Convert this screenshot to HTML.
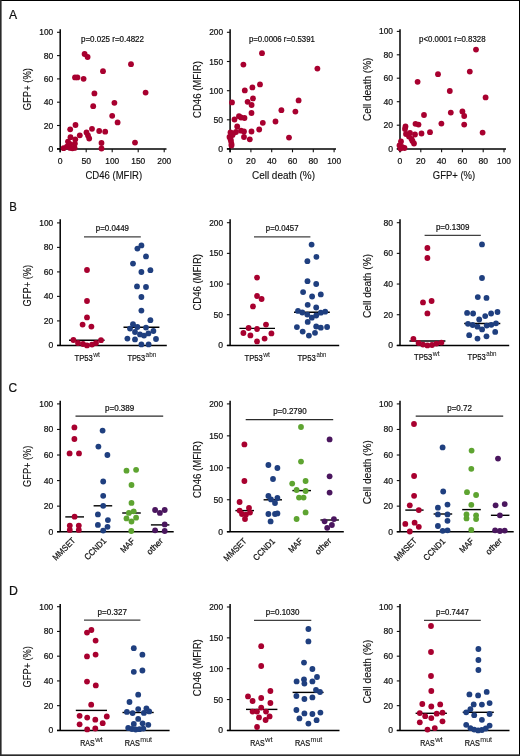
<!DOCTYPE html>
<html><head><meta charset="utf-8"><style>
html,body{margin:0;padding:0;background:#fff;}
svg{display:block;will-change:transform;}
text{font-family:"Liberation Sans", sans-serif;}
</style></head><body>
<svg width="520" height="756" viewBox="0 0 520 756">
<rect x="0" y="0" width="520" height="756" fill="#fff"/>
<text x="8.9" y="19.2" font-size="12.6" text-anchor="start" fill="#111" stroke="#111" stroke-width="0.22" textLength="8.1" lengthAdjust="spacingAndGlyphs">A</text>
<text x="9.3" y="211.0" font-size="12.6" text-anchor="start" fill="#111" stroke="#111" stroke-width="0.22" textLength="7.6" lengthAdjust="spacingAndGlyphs">B</text>
<text x="8.5" y="391.8" font-size="12.6" text-anchor="start" fill="#111" stroke="#111" stroke-width="0.22" textLength="8.6" lengthAdjust="spacingAndGlyphs">C</text>
<text x="8.9" y="595.1" font-size="12.6" text-anchor="start" fill="#111" stroke="#111" stroke-width="0.22" textLength="8.9" lengthAdjust="spacingAndGlyphs">D</text>
<line x1="60.2" y1="29.2" x2="60.2" y2="152.29999999999998" stroke="#000" stroke-width="1.5"/>
<line x1="57.0" y1="32.3" x2="60.2" y2="32.3" stroke="#111" stroke-width="1.1"/>
<text x="53.2" y="35.3" font-size="8.6" text-anchor="end" fill="#111" stroke="#111" stroke-width="0.22" textLength="13.9" lengthAdjust="spacingAndGlyphs">100</text>
<line x1="57.0" y1="55.6" x2="60.2" y2="55.6" stroke="#111" stroke-width="1.1"/>
<text x="53.2" y="58.6" font-size="8.6" text-anchor="end" fill="#111" stroke="#111" stroke-width="0.22">80</text>
<line x1="57.0" y1="78.9" x2="60.2" y2="78.9" stroke="#111" stroke-width="1.1"/>
<text x="53.2" y="81.9" font-size="8.6" text-anchor="end" fill="#111" stroke="#111" stroke-width="0.22">60</text>
<line x1="57.0" y1="102.2" x2="60.2" y2="102.2" stroke="#111" stroke-width="1.1"/>
<text x="53.2" y="105.2" font-size="8.6" text-anchor="end" fill="#111" stroke="#111" stroke-width="0.22">40</text>
<line x1="57.0" y1="125.5" x2="60.2" y2="125.5" stroke="#111" stroke-width="1.1"/>
<text x="53.2" y="128.5" font-size="8.6" text-anchor="end" fill="#111" stroke="#111" stroke-width="0.22">20</text>
<line x1="57.0" y1="148.8" x2="60.2" y2="148.8" stroke="#111" stroke-width="1.1"/>
<text x="53.2" y="151.8" font-size="8.6" text-anchor="end" fill="#111" stroke="#111" stroke-width="0.22">0</text>
<line x1="57.0" y1="149.1" x2="166.5" y2="149.1" stroke="#000" stroke-width="1.5"/>
<line x1="60.2" y1="149.1" x2="60.2" y2="152.29999999999998" stroke="#111" stroke-width="1.1"/>
<text x="60.2" y="163.7" font-size="8.6" text-anchor="middle" fill="#111" stroke="#111" stroke-width="0.22">0</text>
<line x1="86.2" y1="149.1" x2="86.2" y2="152.29999999999998" stroke="#111" stroke-width="1.1"/>
<text x="86.2" y="163.7" font-size="8.6" text-anchor="middle" fill="#111" stroke="#111" stroke-width="0.22">50</text>
<line x1="112.2" y1="149.1" x2="112.2" y2="152.29999999999998" stroke="#111" stroke-width="1.1"/>
<text x="112.2" y="163.7" font-size="8.6" text-anchor="middle" fill="#111" stroke="#111" stroke-width="0.22" textLength="13.9" lengthAdjust="spacingAndGlyphs">100</text>
<line x1="138.2" y1="149.1" x2="138.2" y2="152.29999999999998" stroke="#111" stroke-width="1.1"/>
<text x="138.2" y="163.7" font-size="8.6" text-anchor="middle" fill="#111" stroke="#111" stroke-width="0.22" textLength="13.9" lengthAdjust="spacingAndGlyphs">150</text>
<line x1="164.2" y1="149.1" x2="164.2" y2="152.29999999999998" stroke="#111" stroke-width="1.1"/>
<text x="164.2" y="163.7" font-size="8.6" text-anchor="middle" fill="#111" stroke="#111" stroke-width="0.22" textLength="13.9" lengthAdjust="spacingAndGlyphs">200</text>
<text x="31.200000000000003" y="89.15" font-size="10.0" text-anchor="middle" fill="#111" stroke="#111" stroke-width="0.12" textLength="42.1" lengthAdjust="spacingAndGlyphs" transform="rotate(-90 31.200000000000003 89.15)">GFP+ (%)</text>
<text x="113.8" y="179.1" font-size="10.0" text-anchor="middle" fill="#111" stroke="#111" stroke-width="0.12" textLength="56.8" lengthAdjust="spacingAndGlyphs">CD46 (MFIR)</text>
<text x="112.5" y="41.9" font-size="8.6" text-anchor="middle" fill="#111" stroke="#111" stroke-width="0.22" textLength="63" lengthAdjust="spacingAndGlyphs">p=0.025 r=0.4822</text>
<circle cx="84.6" cy="54" r="2.9" fill="#a8002f"/>
<circle cx="87.6" cy="57" r="2.9" fill="#a8002f"/>
<circle cx="131" cy="64.2" r="2.9" fill="#a8002f"/>
<circle cx="103" cy="71.2" r="2.9" fill="#a8002f"/>
<circle cx="75" cy="77.4" r="2.9" fill="#a8002f"/>
<circle cx="77.4" cy="77.4" r="2.9" fill="#a8002f"/>
<circle cx="83.6" cy="78.8" r="2.9" fill="#a8002f"/>
<circle cx="145.6" cy="92.6" r="2.9" fill="#a8002f"/>
<circle cx="94.4" cy="93.4" r="2.9" fill="#a8002f"/>
<circle cx="114.4" cy="102.8" r="2.9" fill="#a8002f"/>
<circle cx="93.2" cy="106.2" r="2.9" fill="#a8002f"/>
<circle cx="112.2" cy="115.8" r="2.9" fill="#a8002f"/>
<circle cx="117.6" cy="122.4" r="2.9" fill="#a8002f"/>
<circle cx="75.5" cy="125" r="2.9" fill="#a8002f"/>
<circle cx="70.2" cy="129.3" r="2.9" fill="#a8002f"/>
<circle cx="92" cy="128.8" r="2.9" fill="#a8002f"/>
<circle cx="99.2" cy="131" r="2.9" fill="#a8002f"/>
<circle cx="105.2" cy="131.7" r="2.9" fill="#a8002f"/>
<circle cx="86.5" cy="132.5" r="2.9" fill="#a8002f"/>
<circle cx="88" cy="135.5" r="2.9" fill="#a8002f"/>
<circle cx="89.2" cy="138.5" r="2.9" fill="#a8002f"/>
<circle cx="79.8" cy="135.3" r="2.9" fill="#a8002f"/>
<circle cx="70.5" cy="137.2" r="2.9" fill="#a8002f"/>
<circle cx="75.3" cy="139.3" r="2.9" fill="#a8002f"/>
<circle cx="68" cy="141.6" r="2.9" fill="#a8002f"/>
<circle cx="74.9" cy="143.6" r="2.9" fill="#a8002f"/>
<circle cx="70.2" cy="144.2" r="2.9" fill="#a8002f"/>
<circle cx="101.5" cy="143" r="2.9" fill="#a8002f"/>
<circle cx="101.5" cy="148.5" r="2.9" fill="#a8002f"/>
<circle cx="135" cy="142.6" r="2.9" fill="#a8002f"/>
<circle cx="63.6" cy="148.2" r="2.9" fill="#a8002f"/>
<circle cx="66.9" cy="146.6" r="2.9" fill="#a8002f"/>
<circle cx="70.2" cy="147.9" r="2.9" fill="#a8002f"/>
<circle cx="74.6" cy="147.9" r="2.9" fill="#a8002f"/>
<circle cx="72.4" cy="148.3" r="2.9" fill="#a8002f"/>
<line x1="230.1" y1="29.2" x2="230.1" y2="152.29999999999998" stroke="#000" stroke-width="1.5"/>
<line x1="226.9" y1="32.3" x2="230.1" y2="32.3" stroke="#111" stroke-width="1.1"/>
<text x="223.1" y="35.3" font-size="8.6" text-anchor="end" fill="#111" stroke="#111" stroke-width="0.22" textLength="13.9" lengthAdjust="spacingAndGlyphs">200</text>
<line x1="226.9" y1="61.5" x2="230.1" y2="61.5" stroke="#111" stroke-width="1.1"/>
<text x="223.1" y="64.5" font-size="8.6" text-anchor="end" fill="#111" stroke="#111" stroke-width="0.22" textLength="13.9" lengthAdjust="spacingAndGlyphs">150</text>
<line x1="226.9" y1="90.7" x2="230.1" y2="90.7" stroke="#111" stroke-width="1.1"/>
<text x="223.1" y="93.7" font-size="8.6" text-anchor="end" fill="#111" stroke="#111" stroke-width="0.22" textLength="13.9" lengthAdjust="spacingAndGlyphs">100</text>
<line x1="226.9" y1="119.8" x2="230.1" y2="119.8" stroke="#111" stroke-width="1.1"/>
<text x="223.1" y="122.8" font-size="8.6" text-anchor="end" fill="#111" stroke="#111" stroke-width="0.22">50</text>
<line x1="226.9" y1="148.8" x2="230.1" y2="148.8" stroke="#111" stroke-width="1.1"/>
<text x="223.1" y="151.8" font-size="8.6" text-anchor="end" fill="#111" stroke="#111" stroke-width="0.22">0</text>
<line x1="226.9" y1="149.1" x2="336.0" y2="149.1" stroke="#000" stroke-width="1.5"/>
<line x1="230.1" y1="149.1" x2="230.1" y2="152.29999999999998" stroke="#111" stroke-width="1.1"/>
<text x="230.1" y="163.7" font-size="8.6" text-anchor="middle" fill="#111" stroke="#111" stroke-width="0.22">0</text>
<line x1="250.9" y1="149.1" x2="250.9" y2="152.29999999999998" stroke="#111" stroke-width="1.1"/>
<text x="250.9" y="163.7" font-size="8.6" text-anchor="middle" fill="#111" stroke="#111" stroke-width="0.22">20</text>
<line x1="271.7" y1="149.1" x2="271.7" y2="152.29999999999998" stroke="#111" stroke-width="1.1"/>
<text x="271.7" y="163.7" font-size="8.6" text-anchor="middle" fill="#111" stroke="#111" stroke-width="0.22">40</text>
<line x1="292.5" y1="149.1" x2="292.5" y2="152.29999999999998" stroke="#111" stroke-width="1.1"/>
<text x="292.5" y="163.7" font-size="8.6" text-anchor="middle" fill="#111" stroke="#111" stroke-width="0.22">60</text>
<line x1="313.3" y1="149.1" x2="313.3" y2="152.29999999999998" stroke="#111" stroke-width="1.1"/>
<text x="313.3" y="163.7" font-size="8.6" text-anchor="middle" fill="#111" stroke="#111" stroke-width="0.22">80</text>
<line x1="334.1" y1="149.1" x2="334.1" y2="152.29999999999998" stroke="#111" stroke-width="1.1"/>
<text x="334.1" y="163.7" font-size="8.6" text-anchor="middle" fill="#111" stroke="#111" stroke-width="0.22" textLength="13.9" lengthAdjust="spacingAndGlyphs">100</text>
<text x="201.1" y="89.5" font-size="10.0" text-anchor="middle" fill="#111" stroke="#111" stroke-width="0.12" textLength="57" lengthAdjust="spacingAndGlyphs" transform="rotate(-90 201.1 89.5)">CD46 (MFIR)</text>
<text x="283.5" y="179.1" font-size="10.0" text-anchor="middle" fill="#111" stroke="#111" stroke-width="0.12" textLength="63.1" lengthAdjust="spacingAndGlyphs">Cell death (%)</text>
<text x="281.9" y="41.9" font-size="8.6" text-anchor="middle" fill="#111" stroke="#111" stroke-width="0.22" textLength="66" lengthAdjust="spacingAndGlyphs">p=0.0006 r=0.5391</text>
<circle cx="262" cy="53.2" r="2.9" fill="#a8002f"/>
<circle cx="243.4" cy="64.6" r="2.9" fill="#a8002f"/>
<circle cx="317.4" cy="68.6" r="2.9" fill="#a8002f"/>
<circle cx="260" cy="84.4" r="2.9" fill="#a8002f"/>
<circle cx="252.4" cy="87.4" r="2.9" fill="#a8002f"/>
<circle cx="244.8" cy="90.4" r="2.9" fill="#a8002f"/>
<circle cx="232" cy="102.4" r="2.9" fill="#a8002f"/>
<circle cx="253" cy="98.4" r="2.9" fill="#a8002f"/>
<circle cx="247.6" cy="101.8" r="2.9" fill="#a8002f"/>
<circle cx="251.6" cy="105" r="2.9" fill="#a8002f"/>
<circle cx="298.6" cy="100.4" r="2.9" fill="#a8002f"/>
<circle cx="281.4" cy="110.2" r="2.9" fill="#a8002f"/>
<circle cx="295.4" cy="111.6" r="2.9" fill="#a8002f"/>
<circle cx="251.5" cy="113" r="2.9" fill="#a8002f"/>
<circle cx="239" cy="116.2" r="2.9" fill="#a8002f"/>
<circle cx="241" cy="117.5" r="2.9" fill="#a8002f"/>
<circle cx="244.5" cy="118" r="2.9" fill="#a8002f"/>
<circle cx="234.5" cy="119.5" r="2.9" fill="#a8002f"/>
<circle cx="262.8" cy="122.8" r="2.9" fill="#a8002f"/>
<circle cx="275.5" cy="121.5" r="2.9" fill="#a8002f"/>
<circle cx="237.2" cy="126.5" r="2.9" fill="#a8002f"/>
<circle cx="259.2" cy="129.5" r="2.9" fill="#a8002f"/>
<circle cx="251.5" cy="131.5" r="2.9" fill="#a8002f"/>
<circle cx="241" cy="130.7" r="2.9" fill="#a8002f"/>
<circle cx="244" cy="131.5" r="2.9" fill="#a8002f"/>
<circle cx="236" cy="132" r="2.9" fill="#a8002f"/>
<circle cx="230.5" cy="132.5" r="2.9" fill="#a8002f"/>
<circle cx="233" cy="133.5" r="2.9" fill="#a8002f"/>
<circle cx="244" cy="137" r="2.9" fill="#a8002f"/>
<circle cx="249.8" cy="139.3" r="2.9" fill="#a8002f"/>
<circle cx="289" cy="137.6" r="2.9" fill="#a8002f"/>
<circle cx="229.5" cy="137" r="2.9" fill="#a8002f"/>
<circle cx="230.5" cy="139" r="2.9" fill="#a8002f"/>
<circle cx="231" cy="141" r="2.9" fill="#a8002f"/>
<circle cx="231.5" cy="144" r="2.9" fill="#a8002f"/>
<circle cx="231.5" cy="145.5" r="2.9" fill="#a8002f"/>
<circle cx="232.5" cy="135" r="2.9" fill="#a8002f"/>
<line x1="400.0" y1="29.2" x2="400.0" y2="152.29999999999998" stroke="#000" stroke-width="1.5"/>
<line x1="396.8" y1="31.4" x2="400.0" y2="31.4" stroke="#111" stroke-width="1.1"/>
<text x="393.0" y="34.4" font-size="8.6" text-anchor="end" fill="#111" stroke="#111" stroke-width="0.22" textLength="13.9" lengthAdjust="spacingAndGlyphs">100</text>
<line x1="396.8" y1="54.8" x2="400.0" y2="54.8" stroke="#111" stroke-width="1.1"/>
<text x="393.0" y="57.8" font-size="8.6" text-anchor="end" fill="#111" stroke="#111" stroke-width="0.22">80</text>
<line x1="396.8" y1="78.2" x2="400.0" y2="78.2" stroke="#111" stroke-width="1.1"/>
<text x="393.0" y="81.2" font-size="8.6" text-anchor="end" fill="#111" stroke="#111" stroke-width="0.22">60</text>
<line x1="396.8" y1="101.7" x2="400.0" y2="101.7" stroke="#111" stroke-width="1.1"/>
<text x="393.0" y="104.7" font-size="8.6" text-anchor="end" fill="#111" stroke="#111" stroke-width="0.22">40</text>
<line x1="396.8" y1="125.2" x2="400.0" y2="125.2" stroke="#111" stroke-width="1.1"/>
<text x="393.0" y="128.2" font-size="8.6" text-anchor="end" fill="#111" stroke="#111" stroke-width="0.22">20</text>
<line x1="396.8" y1="148.8" x2="400.0" y2="148.8" stroke="#111" stroke-width="1.1"/>
<text x="393.0" y="151.8" font-size="8.6" text-anchor="end" fill="#111" stroke="#111" stroke-width="0.22">0</text>
<line x1="396.8" y1="149.1" x2="506.0" y2="149.1" stroke="#000" stroke-width="1.5"/>
<line x1="400.0" y1="149.1" x2="400.0" y2="152.29999999999998" stroke="#111" stroke-width="1.1"/>
<text x="400.0" y="163.7" font-size="8.6" text-anchor="middle" fill="#111" stroke="#111" stroke-width="0.22">0</text>
<line x1="420.8" y1="149.1" x2="420.8" y2="152.29999999999998" stroke="#111" stroke-width="1.1"/>
<text x="420.8" y="163.7" font-size="8.6" text-anchor="middle" fill="#111" stroke="#111" stroke-width="0.22">20</text>
<line x1="441.6" y1="149.1" x2="441.6" y2="152.29999999999998" stroke="#111" stroke-width="1.1"/>
<text x="441.6" y="163.7" font-size="8.6" text-anchor="middle" fill="#111" stroke="#111" stroke-width="0.22">40</text>
<line x1="462.4" y1="149.1" x2="462.4" y2="152.29999999999998" stroke="#111" stroke-width="1.1"/>
<text x="462.4" y="163.7" font-size="8.6" text-anchor="middle" fill="#111" stroke="#111" stroke-width="0.22">60</text>
<line x1="483.2" y1="149.1" x2="483.2" y2="152.29999999999998" stroke="#111" stroke-width="1.1"/>
<text x="483.2" y="163.7" font-size="8.6" text-anchor="middle" fill="#111" stroke="#111" stroke-width="0.22">80</text>
<line x1="504.0" y1="149.1" x2="504.0" y2="152.29999999999998" stroke="#111" stroke-width="1.1"/>
<text x="504.0" y="163.7" font-size="8.6" text-anchor="middle" fill="#111" stroke="#111" stroke-width="0.22" textLength="13.9" lengthAdjust="spacingAndGlyphs">100</text>
<text x="371.0" y="89.35" font-size="10.0" text-anchor="middle" fill="#111" stroke="#111" stroke-width="0.12" textLength="63.5" lengthAdjust="spacingAndGlyphs" transform="rotate(-90 371.0 89.35)">Cell death (%)</text>
<text x="454.0" y="179.1" font-size="10.0" text-anchor="middle" fill="#111" stroke="#111" stroke-width="0.12" textLength="42.4" lengthAdjust="spacingAndGlyphs">GFP+ (%)</text>
<text x="452.3" y="41.9" font-size="8.6" text-anchor="middle" fill="#111" stroke="#111" stroke-width="0.22" textLength="66.5" lengthAdjust="spacingAndGlyphs">p&lt;0.0001 r=0.8328</text>
<circle cx="476" cy="49.6" r="2.9" fill="#a8002f"/>
<circle cx="469.8" cy="71.6" r="2.9" fill="#a8002f"/>
<circle cx="438" cy="74.2" r="2.9" fill="#a8002f"/>
<circle cx="417.6" cy="81.8" r="2.9" fill="#a8002f"/>
<circle cx="449.8" cy="91" r="2.9" fill="#a8002f"/>
<circle cx="485.6" cy="97.4" r="2.9" fill="#a8002f"/>
<circle cx="424" cy="115" r="2.9" fill="#a8002f"/>
<circle cx="450.8" cy="112.6" r="2.9" fill="#a8002f"/>
<circle cx="462.4" cy="111.4" r="2.9" fill="#a8002f"/>
<circle cx="464.2" cy="116" r="2.9" fill="#a8002f"/>
<circle cx="464.2" cy="124.6" r="2.9" fill="#a8002f"/>
<circle cx="441.4" cy="123.6" r="2.9" fill="#a8002f"/>
<circle cx="415.5" cy="123.8" r="2.9" fill="#a8002f"/>
<circle cx="418.5" cy="124.6" r="2.9" fill="#a8002f"/>
<circle cx="430" cy="132.2" r="2.9" fill="#a8002f"/>
<circle cx="421.5" cy="133.5" r="2.9" fill="#a8002f"/>
<circle cx="482.6" cy="132.6" r="2.9" fill="#a8002f"/>
<circle cx="405.5" cy="126.5" r="2.9" fill="#a8002f"/>
<circle cx="405" cy="129" r="2.9" fill="#a8002f"/>
<circle cx="406" cy="134" r="2.9" fill="#a8002f"/>
<circle cx="410" cy="132.8" r="2.9" fill="#a8002f"/>
<circle cx="415" cy="134.5" r="2.9" fill="#a8002f"/>
<circle cx="409" cy="136.5" r="2.9" fill="#a8002f"/>
<circle cx="411.5" cy="139" r="2.9" fill="#a8002f"/>
<circle cx="414" cy="143.5" r="2.9" fill="#a8002f"/>
<circle cx="401" cy="141.5" r="2.9" fill="#a8002f"/>
<circle cx="399.5" cy="145.5" r="2.9" fill="#a8002f"/>
<circle cx="402" cy="147" r="2.9" fill="#a8002f"/>
<circle cx="404.5" cy="148" r="2.9" fill="#a8002f"/>
<circle cx="400.5" cy="148.5" r="2.9" fill="#a8002f"/>
<circle cx="412.5" cy="141" r="2.9" fill="#a8002f"/>
<line x1="60.2" y1="219.2" x2="60.2" y2="345.4" stroke="#000" stroke-width="1.5"/>
<line x1="57.0" y1="222.9" x2="60.2" y2="222.9" stroke="#111" stroke-width="1.1"/>
<text x="53.2" y="225.9" font-size="8.6" text-anchor="end" fill="#111" stroke="#111" stroke-width="0.22" textLength="13.9" lengthAdjust="spacingAndGlyphs">100</text>
<line x1="57.0" y1="247.4" x2="60.2" y2="247.4" stroke="#111" stroke-width="1.1"/>
<text x="53.2" y="250.4" font-size="8.6" text-anchor="end" fill="#111" stroke="#111" stroke-width="0.22">80</text>
<line x1="57.0" y1="271.9" x2="60.2" y2="271.9" stroke="#111" stroke-width="1.1"/>
<text x="53.2" y="274.9" font-size="8.6" text-anchor="end" fill="#111" stroke="#111" stroke-width="0.22">60</text>
<line x1="57.0" y1="296.4" x2="60.2" y2="296.4" stroke="#111" stroke-width="1.1"/>
<text x="53.2" y="299.4" font-size="8.6" text-anchor="end" fill="#111" stroke="#111" stroke-width="0.22">40</text>
<line x1="57.0" y1="320.9" x2="60.2" y2="320.9" stroke="#111" stroke-width="1.1"/>
<text x="53.2" y="323.9" font-size="8.6" text-anchor="end" fill="#111" stroke="#111" stroke-width="0.22">20</text>
<line x1="57.0" y1="345.4" x2="60.2" y2="345.4" stroke="#111" stroke-width="1.1"/>
<text x="53.2" y="348.4" font-size="8.6" text-anchor="end" fill="#111" stroke="#111" stroke-width="0.22">0</text>
<line x1="57.0" y1="345.4" x2="166.8" y2="345.4" stroke="#000" stroke-width="1.5"/>
<text x="31.200000000000003" y="285.65" font-size="10.0" text-anchor="middle" fill="#111" stroke="#111" stroke-width="0.12" textLength="41.7" lengthAdjust="spacingAndGlyphs" transform="rotate(-90 31.200000000000003 285.65)">GFP+ (%)</text>
<line x1="84.0" y1="236.9" x2="140.8" y2="236.9" stroke="#404040" stroke-width="1.3"/>
<text x="112.4" y="231.4" font-size="8.6" text-anchor="middle" fill="#111" stroke="#111" stroke-width="0.22" textLength="33.2" lengthAdjust="spacingAndGlyphs">p=0.0449</text>
<text x="74.5" y="360.9" font-size="8.8" text-anchor="start" fill="#111" stroke="#111" stroke-width="0.22" textLength="18.2" lengthAdjust="spacingAndGlyphs">TP53</text>
<text x="93.2" y="357.2" font-size="6.9" text-anchor="start" fill="#111" stroke="#111" stroke-width="0.05" textLength="6.8" lengthAdjust="spacingAndGlyphs">wt</text>
<text x="127.39999999999999" y="360.9" font-size="8.8" text-anchor="start" fill="#111" stroke="#111" stroke-width="0.22" textLength="17.7" lengthAdjust="spacingAndGlyphs">TP53</text>
<text x="145.6" y="357.2" font-size="6.9" text-anchor="start" fill="#111" stroke="#111" stroke-width="0.05" textLength="10.7" lengthAdjust="spacingAndGlyphs">abn</text>
<line x1="69" y1="340.2" x2="104.6" y2="340.2" stroke="#000" stroke-width="1.4"/>
<line x1="123.5" y1="327.2" x2="159.4" y2="327.2" stroke="#000" stroke-width="1.4"/>
<circle cx="87" cy="270" r="2.9" fill="#a8002f"/>
<circle cx="87" cy="301" r="2.9" fill="#a8002f"/>
<circle cx="87" cy="317.4" r="2.9" fill="#a8002f"/>
<circle cx="82.6" cy="324.6" r="2.9" fill="#a8002f"/>
<circle cx="91.4" cy="326.6" r="2.9" fill="#a8002f"/>
<circle cx="73.4" cy="340" r="2.9" fill="#a8002f"/>
<circle cx="101" cy="340.2" r="2.9" fill="#a8002f"/>
<circle cx="78" cy="343" r="2.9" fill="#a8002f"/>
<circle cx="83" cy="344" r="2.9" fill="#a8002f"/>
<circle cx="87" cy="345.4" r="2.9" fill="#a8002f"/>
<circle cx="92" cy="344.6" r="2.9" fill="#a8002f"/>
<circle cx="96" cy="343" r="2.9" fill="#a8002f"/>
<circle cx="141.4" cy="245.4" r="2.9" fill="#1f3f7f"/>
<circle cx="137.4" cy="248.6" r="2.9" fill="#1f3f7f"/>
<circle cx="146" cy="256.4" r="2.9" fill="#1f3f7f"/>
<circle cx="133" cy="263.6" r="2.9" fill="#1f3f7f"/>
<circle cx="141.4" cy="272" r="2.9" fill="#1f3f7f"/>
<circle cx="150.4" cy="270.2" r="2.9" fill="#1f3f7f"/>
<circle cx="137" cy="286.4" r="2.9" fill="#1f3f7f"/>
<circle cx="146" cy="287" r="2.9" fill="#1f3f7f"/>
<circle cx="141.4" cy="297" r="2.9" fill="#1f3f7f"/>
<circle cx="141.4" cy="310.6" r="2.9" fill="#1f3f7f"/>
<circle cx="150.4" cy="320.2" r="2.9" fill="#1f3f7f"/>
<circle cx="133" cy="324.2" r="2.9" fill="#1f3f7f"/>
<circle cx="137.4" cy="327" r="2.9" fill="#1f3f7f"/>
<circle cx="146" cy="327.6" r="2.9" fill="#1f3f7f"/>
<circle cx="130" cy="328.6" r="2.9" fill="#1f3f7f"/>
<circle cx="135" cy="332" r="2.9" fill="#1f3f7f"/>
<circle cx="140" cy="334.4" r="2.9" fill="#1f3f7f"/>
<circle cx="144" cy="335.6" r="2.9" fill="#1f3f7f"/>
<circle cx="148.4" cy="333.4" r="2.9" fill="#1f3f7f"/>
<circle cx="153.4" cy="331" r="2.9" fill="#1f3f7f"/>
<circle cx="127.4" cy="338.6" r="2.9" fill="#1f3f7f"/>
<circle cx="135" cy="339.4" r="2.9" fill="#1f3f7f"/>
<circle cx="156" cy="339" r="2.9" fill="#1f3f7f"/>
<circle cx="141.4" cy="344.4" r="2.9" fill="#1f3f7f"/>
<circle cx="148.6" cy="344.4" r="2.9" fill="#1f3f7f"/>
<line x1="230.1" y1="219.2" x2="230.1" y2="345.4" stroke="#000" stroke-width="1.5"/>
<line x1="226.9" y1="222.7" x2="230.1" y2="222.7" stroke="#111" stroke-width="1.1"/>
<text x="223.1" y="225.7" font-size="8.6" text-anchor="end" fill="#111" stroke="#111" stroke-width="0.22" textLength="13.9" lengthAdjust="spacingAndGlyphs">200</text>
<line x1="226.9" y1="253.38" x2="230.1" y2="253.38" stroke="#111" stroke-width="1.1"/>
<text x="223.1" y="256.38" font-size="8.6" text-anchor="end" fill="#111" stroke="#111" stroke-width="0.22" textLength="13.9" lengthAdjust="spacingAndGlyphs">150</text>
<line x1="226.9" y1="284.05" x2="230.1" y2="284.05" stroke="#111" stroke-width="1.1"/>
<text x="223.1" y="287.05" font-size="8.6" text-anchor="end" fill="#111" stroke="#111" stroke-width="0.22" textLength="13.9" lengthAdjust="spacingAndGlyphs">100</text>
<line x1="226.9" y1="314.72" x2="230.1" y2="314.72" stroke="#111" stroke-width="1.1"/>
<text x="223.1" y="317.72" font-size="8.6" text-anchor="end" fill="#111" stroke="#111" stroke-width="0.22">50</text>
<line x1="226.9" y1="345.4" x2="230.1" y2="345.4" stroke="#111" stroke-width="1.1"/>
<text x="223.1" y="348.4" font-size="8.6" text-anchor="end" fill="#111" stroke="#111" stroke-width="0.22">0</text>
<line x1="226.9" y1="345.4" x2="339.2" y2="345.4" stroke="#000" stroke-width="1.5"/>
<text x="201.1" y="282.3" font-size="10.0" text-anchor="middle" fill="#111" stroke="#111" stroke-width="0.12" textLength="56.6" lengthAdjust="spacingAndGlyphs" transform="rotate(-90 201.1 282.3)">CD46 (MFIR)</text>
<line x1="254.0" y1="236.9" x2="310.4" y2="236.9" stroke="#404040" stroke-width="1.3"/>
<text x="282.2" y="231.4" font-size="8.6" text-anchor="middle" fill="#111" stroke="#111" stroke-width="0.22" textLength="32.7" lengthAdjust="spacingAndGlyphs">p=0.0457</text>
<text x="244.5" y="360.9" font-size="8.8" text-anchor="start" fill="#111" stroke="#111" stroke-width="0.22" textLength="18.2" lengthAdjust="spacingAndGlyphs">TP53</text>
<text x="263.2" y="357.2" font-size="6.9" text-anchor="start" fill="#111" stroke="#111" stroke-width="0.05" textLength="6.8" lengthAdjust="spacingAndGlyphs">wt</text>
<text x="297.4" y="360.9" font-size="8.8" text-anchor="start" fill="#111" stroke="#111" stroke-width="0.22" textLength="18.5" lengthAdjust="spacingAndGlyphs">TP53</text>
<text x="316.4" y="357.2" font-size="6.9" text-anchor="start" fill="#111" stroke="#111" stroke-width="0.05" textLength="10.1" lengthAdjust="spacingAndGlyphs">abn</text>
<line x1="239.4" y1="328.4" x2="275" y2="328.4" stroke="#000" stroke-width="1.4"/>
<line x1="294" y1="312.3" x2="329.8" y2="312.3" stroke="#000" stroke-width="1.4"/>
<circle cx="257" cy="277.6" r="2.9" fill="#a8002f"/>
<circle cx="257" cy="296" r="2.9" fill="#a8002f"/>
<circle cx="261.6" cy="299" r="2.9" fill="#a8002f"/>
<circle cx="253" cy="306.4" r="2.9" fill="#a8002f"/>
<circle cx="266" cy="324.6" r="2.9" fill="#a8002f"/>
<circle cx="248.6" cy="328" r="2.9" fill="#a8002f"/>
<circle cx="257" cy="329" r="2.9" fill="#a8002f"/>
<circle cx="243.4" cy="333" r="2.9" fill="#a8002f"/>
<circle cx="250.4" cy="335.4" r="2.9" fill="#a8002f"/>
<circle cx="271.4" cy="333.4" r="2.9" fill="#a8002f"/>
<circle cx="264.6" cy="338.6" r="2.9" fill="#a8002f"/>
<circle cx="257" cy="341.4" r="2.9" fill="#a8002f"/>
<circle cx="311.6" cy="244.6" r="2.9" fill="#1f3f7f"/>
<circle cx="316.4" cy="256.8" r="2.9" fill="#1f3f7f"/>
<circle cx="307.4" cy="261.2" r="2.9" fill="#1f3f7f"/>
<circle cx="307.5" cy="281.2" r="2.9" fill="#1f3f7f"/>
<circle cx="316.2" cy="284" r="2.9" fill="#1f3f7f"/>
<circle cx="303.1" cy="292.1" r="2.9" fill="#1f3f7f"/>
<circle cx="312.1" cy="296.5" r="2.9" fill="#1f3f7f"/>
<circle cx="320.8" cy="294.4" r="2.9" fill="#1f3f7f"/>
<circle cx="307.7" cy="304.8" r="2.9" fill="#1f3f7f"/>
<circle cx="316.2" cy="307.5" r="2.9" fill="#1f3f7f"/>
<circle cx="298" cy="310.9" r="2.9" fill="#1f3f7f"/>
<circle cx="302.3" cy="312.5" r="2.9" fill="#1f3f7f"/>
<circle cx="307.3" cy="314.6" r="2.9" fill="#1f3f7f"/>
<circle cx="311.8" cy="317.7" r="2.9" fill="#1f3f7f"/>
<circle cx="316.2" cy="315.5" r="2.9" fill="#1f3f7f"/>
<circle cx="320.8" cy="312.7" r="2.9" fill="#1f3f7f"/>
<circle cx="325.2" cy="311.7" r="2.9" fill="#1f3f7f"/>
<circle cx="307.7" cy="321.9" r="2.9" fill="#1f3f7f"/>
<circle cx="296.9" cy="327.1" r="2.9" fill="#1f3f7f"/>
<circle cx="302.7" cy="331.6" r="2.9" fill="#1f3f7f"/>
<circle cx="308.9" cy="335.6" r="2.9" fill="#1f3f7f"/>
<circle cx="315" cy="332.8" r="2.9" fill="#1f3f7f"/>
<circle cx="316.2" cy="326.5" r="2.9" fill="#1f3f7f"/>
<circle cx="320.8" cy="327.7" r="2.9" fill="#1f3f7f"/>
<circle cx="327.1" cy="327" r="2.9" fill="#1f3f7f"/>
<line x1="400.0" y1="219.2" x2="400.0" y2="345.4" stroke="#000" stroke-width="1.5"/>
<line x1="396.8" y1="222.7" x2="400.0" y2="222.7" stroke="#111" stroke-width="1.1"/>
<text x="393.0" y="225.7" font-size="8.6" text-anchor="end" fill="#111" stroke="#111" stroke-width="0.22">80</text>
<line x1="396.8" y1="253.38" x2="400.0" y2="253.38" stroke="#111" stroke-width="1.1"/>
<text x="393.0" y="256.38" font-size="8.6" text-anchor="end" fill="#111" stroke="#111" stroke-width="0.22">60</text>
<line x1="396.8" y1="284.05" x2="400.0" y2="284.05" stroke="#111" stroke-width="1.1"/>
<text x="393.0" y="287.05" font-size="8.6" text-anchor="end" fill="#111" stroke="#111" stroke-width="0.22">40</text>
<line x1="396.8" y1="314.72" x2="400.0" y2="314.72" stroke="#111" stroke-width="1.1"/>
<text x="393.0" y="317.72" font-size="8.6" text-anchor="end" fill="#111" stroke="#111" stroke-width="0.22">20</text>
<line x1="396.8" y1="345.4" x2="400.0" y2="345.4" stroke="#111" stroke-width="1.1"/>
<text x="393.0" y="348.4" font-size="8.6" text-anchor="end" fill="#111" stroke="#111" stroke-width="0.22">0</text>
<line x1="396.8" y1="345.4" x2="509.2" y2="345.4" stroke="#000" stroke-width="1.5"/>
<text x="371.0" y="286.0" font-size="10.0" text-anchor="middle" fill="#111" stroke="#111" stroke-width="0.12" textLength="64" lengthAdjust="spacingAndGlyphs" transform="rotate(-90 371.0 286.0)">Cell death (%)</text>
<line x1="424.6" y1="235.4" x2="480.8" y2="235.4" stroke="#404040" stroke-width="1.3"/>
<text x="452.70000000000005" y="229.9" font-size="8.6" text-anchor="middle" fill="#111" stroke="#111" stroke-width="0.22" textLength="33.6" lengthAdjust="spacingAndGlyphs">p=0.1309</text>
<text x="414.1" y="360.1" font-size="8.8" text-anchor="start" fill="#111" stroke="#111" stroke-width="0.22" textLength="18.2" lengthAdjust="spacingAndGlyphs">TP53</text>
<text x="432.8" y="356.40000000000003" font-size="6.9" text-anchor="start" fill="#111" stroke="#111" stroke-width="0.05" textLength="6.8" lengthAdjust="spacingAndGlyphs">wt</text>
<text x="467.5" y="360.1" font-size="8.8" text-anchor="start" fill="#111" stroke="#111" stroke-width="0.22" textLength="18.2" lengthAdjust="spacingAndGlyphs">TP53</text>
<text x="486.2" y="356.40000000000003" font-size="6.9" text-anchor="start" fill="#111" stroke="#111" stroke-width="0.05" textLength="10.4" lengthAdjust="spacingAndGlyphs">abn</text>
<line x1="409.4" y1="341" x2="445.4" y2="341" stroke="#000" stroke-width="1.4"/>
<line x1="464.2" y1="323.5" x2="500.3" y2="323.5" stroke="#000" stroke-width="1.4"/>
<circle cx="427.4" cy="248" r="2.9" fill="#a8002f"/>
<circle cx="427.4" cy="258" r="2.9" fill="#a8002f"/>
<circle cx="423" cy="302.4" r="2.9" fill="#a8002f"/>
<circle cx="431.6" cy="301" r="2.9" fill="#a8002f"/>
<circle cx="427.4" cy="313.4" r="2.9" fill="#a8002f"/>
<circle cx="413.4" cy="339" r="2.9" fill="#a8002f"/>
<circle cx="418.6" cy="343" r="2.9" fill="#a8002f"/>
<circle cx="423" cy="344.6" r="2.9" fill="#a8002f"/>
<circle cx="427.4" cy="345.4" r="2.9" fill="#a8002f"/>
<circle cx="432" cy="345" r="2.9" fill="#a8002f"/>
<circle cx="436.4" cy="343.6" r="2.9" fill="#a8002f"/>
<circle cx="441.4" cy="342.6" r="2.9" fill="#a8002f"/>
<circle cx="482" cy="244.4" r="2.9" fill="#1f3f7f"/>
<circle cx="482" cy="278" r="2.9" fill="#1f3f7f"/>
<circle cx="477.8" cy="297.1" r="2.9" fill="#1f3f7f"/>
<circle cx="486.5" cy="297.9" r="2.9" fill="#1f3f7f"/>
<circle cx="467.1" cy="312.9" r="2.9" fill="#1f3f7f"/>
<circle cx="473.1" cy="313.5" r="2.9" fill="#1f3f7f"/>
<circle cx="485.2" cy="316.1" r="2.9" fill="#1f3f7f"/>
<circle cx="491.1" cy="313.5" r="2.9" fill="#1f3f7f"/>
<circle cx="497.5" cy="312" r="2.9" fill="#1f3f7f"/>
<circle cx="479.2" cy="319.5" r="2.9" fill="#1f3f7f"/>
<circle cx="468" cy="323.8" r="2.9" fill="#1f3f7f"/>
<circle cx="472.7" cy="325" r="2.9" fill="#1f3f7f"/>
<circle cx="477.5" cy="326.7" r="2.9" fill="#1f3f7f"/>
<circle cx="482.1" cy="329.4" r="2.9" fill="#1f3f7f"/>
<circle cx="486.7" cy="325.6" r="2.9" fill="#1f3f7f"/>
<circle cx="491.3" cy="324.8" r="2.9" fill="#1f3f7f"/>
<circle cx="496" cy="323.3" r="2.9" fill="#1f3f7f"/>
<circle cx="469.2" cy="335.2" r="2.9" fill="#1f3f7f"/>
<circle cx="477.5" cy="338.6" r="2.9" fill="#1f3f7f"/>
<circle cx="486.5" cy="336.3" r="2.9" fill="#1f3f7f"/>
<circle cx="495.2" cy="331.9" r="2.9" fill="#1f3f7f"/>
<line x1="60.2" y1="400.8" x2="60.2" y2="531.7" stroke="#000" stroke-width="1.5"/>
<line x1="57.0" y1="403.9" x2="60.2" y2="403.9" stroke="#111" stroke-width="1.1"/>
<text x="53.2" y="406.9" font-size="8.6" text-anchor="end" fill="#111" stroke="#111" stroke-width="0.22" textLength="13.9" lengthAdjust="spacingAndGlyphs">100</text>
<line x1="57.0" y1="429.46" x2="60.2" y2="429.46" stroke="#111" stroke-width="1.1"/>
<text x="53.2" y="432.46" font-size="8.6" text-anchor="end" fill="#111" stroke="#111" stroke-width="0.22">80</text>
<line x1="57.0" y1="455.02" x2="60.2" y2="455.02" stroke="#111" stroke-width="1.1"/>
<text x="53.2" y="458.02" font-size="8.6" text-anchor="end" fill="#111" stroke="#111" stroke-width="0.22">60</text>
<line x1="57.0" y1="480.58" x2="60.2" y2="480.58" stroke="#111" stroke-width="1.1"/>
<text x="53.2" y="483.58" font-size="8.6" text-anchor="end" fill="#111" stroke="#111" stroke-width="0.22">40</text>
<line x1="57.0" y1="506.14" x2="60.2" y2="506.14" stroke="#111" stroke-width="1.1"/>
<text x="53.2" y="509.14" font-size="8.6" text-anchor="end" fill="#111" stroke="#111" stroke-width="0.22">20</text>
<line x1="57.0" y1="531.7" x2="60.2" y2="531.7" stroke="#111" stroke-width="1.1"/>
<text x="53.2" y="534.7" font-size="8.6" text-anchor="end" fill="#111" stroke="#111" stroke-width="0.22">0</text>
<line x1="57.0" y1="531.7" x2="173.7" y2="531.7" stroke="#000" stroke-width="1.5"/>
<text x="31.200000000000003" y="466.3" font-size="10.0" text-anchor="middle" fill="#111" stroke="#111" stroke-width="0.12" textLength="41.2" lengthAdjust="spacingAndGlyphs" transform="rotate(-90 31.200000000000003 466.3)">GFP+ (%)</text>
<line x1="75.5" y1="416.2" x2="163.2" y2="416.2" stroke="#2a2a2a" stroke-width="1.25"/>
<text x="119.65" y="411.1" font-size="8.6" text-anchor="middle" fill="#111" stroke="#111" stroke-width="0.22" textLength="29.3" lengthAdjust="spacingAndGlyphs">p=0.389</text>
<text x="76.0" y="541.0" font-size="8.6" text-anchor="end" fill="#111" stroke="#111" stroke-width="0.22" textLength="28.4" lengthAdjust="spacingAndGlyphs" transform="rotate(-45 76.0 541.0)">MMSET</text>
<text x="106.9" y="541.3000000000001" font-size="8.6" text-anchor="end" fill="#111" stroke="#111" stroke-width="0.22" textLength="27.2" lengthAdjust="spacingAndGlyphs" transform="rotate(-45 106.9 541.3000000000001)">CCND1</text>
<text x="135.4" y="541.6" font-size="8.6" text-anchor="end" fill="#111" stroke="#111" stroke-width="0.22" textLength="16.6" lengthAdjust="spacingAndGlyphs" transform="rotate(-45 135.4 541.6)">MAF</text>
<text x="163.6" y="541.6" font-size="8.6" text-anchor="end" fill="#111" stroke="#111" stroke-width="0.22" textLength="19.2" lengthAdjust="spacingAndGlyphs" transform="rotate(-45 163.6 541.6)">other</text>
<line x1="65.3" y1="516.9" x2="84" y2="516.9" stroke="#000" stroke-width="1.4"/>
<line x1="93.6" y1="505.8" x2="112.2" y2="505.8" stroke="#000" stroke-width="1.4"/>
<line x1="122.2" y1="513" x2="140.8" y2="513" stroke="#000" stroke-width="1.4"/>
<line x1="150.9" y1="524.9" x2="169.4" y2="524.9" stroke="#000" stroke-width="1.4"/>
<circle cx="74.4" cy="427.4" r="2.9" fill="#a8002f"/>
<circle cx="74.4" cy="439" r="2.9" fill="#a8002f"/>
<circle cx="69.6" cy="453.4" r="2.9" fill="#a8002f"/>
<circle cx="79" cy="453.4" r="2.9" fill="#a8002f"/>
<circle cx="74.6" cy="516.7" r="2.9" fill="#a8002f"/>
<circle cx="69.8" cy="525.6" r="2.9" fill="#a8002f"/>
<circle cx="78.8" cy="525.6" r="2.9" fill="#a8002f"/>
<circle cx="69.8" cy="529.9" r="2.9" fill="#a8002f"/>
<circle cx="78.8" cy="529.9" r="2.9" fill="#a8002f"/>
<circle cx="102.6" cy="430.6" r="2.9" fill="#1f3f7f"/>
<circle cx="98.4" cy="446.6" r="2.9" fill="#1f3f7f"/>
<circle cx="107.4" cy="455" r="2.9" fill="#1f3f7f"/>
<circle cx="103.2" cy="481.5" r="2.9" fill="#1f3f7f"/>
<circle cx="103.2" cy="495.8" r="2.9" fill="#1f3f7f"/>
<circle cx="103.2" cy="505.8" r="2.9" fill="#1f3f7f"/>
<circle cx="97.9" cy="514.4" r="2.9" fill="#1f3f7f"/>
<circle cx="107.9" cy="520.1" r="2.9" fill="#1f3f7f"/>
<circle cx="97.9" cy="524.9" r="2.9" fill="#1f3f7f"/>
<circle cx="107.5" cy="526.8" r="2.9" fill="#1f3f7f"/>
<circle cx="103.2" cy="530.6" r="2.9" fill="#1f3f7f"/>
<circle cx="126.5" cy="470.7" r="2.9" fill="#5ea431"/>
<circle cx="136.1" cy="469.8" r="2.9" fill="#5ea431"/>
<circle cx="131.5" cy="485" r="2.9" fill="#5ea431"/>
<circle cx="131.5" cy="502.9" r="2.9" fill="#5ea431"/>
<circle cx="128.9" cy="512.9" r="2.9" fill="#5ea431"/>
<circle cx="133.7" cy="511.3" r="2.9" fill="#5ea431"/>
<circle cx="126.5" cy="518.4" r="2.9" fill="#5ea431"/>
<circle cx="136.1" cy="517.7" r="2.9" fill="#5ea431"/>
<circle cx="131.5" cy="521.5" r="2.9" fill="#5ea431"/>
<circle cx="131.3" cy="531" r="2.9" fill="#5ea431"/>
<circle cx="155.1" cy="510" r="2.9" fill="#4a165e"/>
<circle cx="159.9" cy="512.9" r="2.9" fill="#4a165e"/>
<circle cx="164.7" cy="510" r="2.9" fill="#4a165e"/>
<circle cx="164.7" cy="524.4" r="2.9" fill="#4a165e"/>
<circle cx="155.1" cy="530.3" r="2.9" fill="#4a165e"/>
<circle cx="164.7" cy="531" r="2.9" fill="#4a165e"/>
<line x1="230.1" y1="400.8" x2="230.1" y2="531.7" stroke="#000" stroke-width="1.5"/>
<line x1="226.9" y1="403.9" x2="230.1" y2="403.9" stroke="#111" stroke-width="1.1"/>
<text x="223.1" y="406.9" font-size="8.6" text-anchor="end" fill="#111" stroke="#111" stroke-width="0.22" textLength="13.9" lengthAdjust="spacingAndGlyphs">200</text>
<line x1="226.9" y1="435.85" x2="230.1" y2="435.85" stroke="#111" stroke-width="1.1"/>
<text x="223.1" y="438.85" font-size="8.6" text-anchor="end" fill="#111" stroke="#111" stroke-width="0.22" textLength="13.9" lengthAdjust="spacingAndGlyphs">150</text>
<line x1="226.9" y1="467.8" x2="230.1" y2="467.8" stroke="#111" stroke-width="1.1"/>
<text x="223.1" y="470.8" font-size="8.6" text-anchor="end" fill="#111" stroke="#111" stroke-width="0.22" textLength="13.9" lengthAdjust="spacingAndGlyphs">100</text>
<line x1="226.9" y1="499.75" x2="230.1" y2="499.75" stroke="#111" stroke-width="1.1"/>
<text x="223.1" y="502.75" font-size="8.6" text-anchor="end" fill="#111" stroke="#111" stroke-width="0.22">50</text>
<line x1="226.9" y1="531.7" x2="230.1" y2="531.7" stroke="#111" stroke-width="1.1"/>
<text x="223.1" y="534.7" font-size="8.6" text-anchor="end" fill="#111" stroke="#111" stroke-width="0.22">0</text>
<line x1="226.9" y1="531.7" x2="343.8" y2="531.7" stroke="#000" stroke-width="1.5"/>
<text x="201.1" y="469.6" font-size="10.0" text-anchor="middle" fill="#111" stroke="#111" stroke-width="0.12" textLength="57" lengthAdjust="spacingAndGlyphs" transform="rotate(-90 201.1 469.6)">CD46 (MFIR)</text>
<line x1="245.7" y1="419.6" x2="333.2" y2="419.6" stroke="#2a2a2a" stroke-width="1.25"/>
<text x="289.9" y="414.3" font-size="8.6" text-anchor="middle" fill="#111" stroke="#111" stroke-width="0.22" textLength="33.4" lengthAdjust="spacingAndGlyphs">p=0.2790</text>
<text x="247.20000000000002" y="541.6" font-size="8.6" text-anchor="end" fill="#111" stroke="#111" stroke-width="0.22" textLength="28.4" lengthAdjust="spacingAndGlyphs" transform="rotate(-45 247.20000000000002 541.6)">MMSET</text>
<text x="275.7" y="541.9000000000001" font-size="8.6" text-anchor="end" fill="#111" stroke="#111" stroke-width="0.22" textLength="27.2" lengthAdjust="spacingAndGlyphs" transform="rotate(-45 275.7 541.9000000000001)">CCND1</text>
<text x="303.4" y="541.6" font-size="8.6" text-anchor="end" fill="#111" stroke="#111" stroke-width="0.22" textLength="16.6" lengthAdjust="spacingAndGlyphs" transform="rotate(-45 303.4 541.6)">MAF</text>
<text x="331.9" y="541.6" font-size="8.6" text-anchor="end" fill="#111" stroke="#111" stroke-width="0.22" textLength="19.2" lengthAdjust="spacingAndGlyphs" transform="rotate(-45 331.9 541.6)">other</text>
<line x1="235.4" y1="510.6" x2="254" y2="510.6" stroke="#000" stroke-width="1.4"/>
<line x1="263.6" y1="499.8" x2="282" y2="499.8" stroke="#000" stroke-width="1.4"/>
<line x1="292.4" y1="490.6" x2="311" y2="490.6" stroke="#000" stroke-width="1.4"/>
<line x1="320.4" y1="520" x2="338.9" y2="520" stroke="#000" stroke-width="1.4"/>
<circle cx="244.4" cy="444.4" r="2.9" fill="#a8002f"/>
<circle cx="244.4" cy="481" r="2.9" fill="#a8002f"/>
<circle cx="239.6" cy="502" r="2.9" fill="#a8002f"/>
<circle cx="249" cy="508" r="2.9" fill="#a8002f"/>
<circle cx="239.6" cy="510.6" r="2.9" fill="#a8002f"/>
<circle cx="242" cy="514" r="2.9" fill="#a8002f"/>
<circle cx="246" cy="514.6" r="2.9" fill="#a8002f"/>
<circle cx="250" cy="512.6" r="2.9" fill="#a8002f"/>
<circle cx="245" cy="519" r="2.9" fill="#a8002f"/>
<circle cx="268.4" cy="465" r="2.9" fill="#1f3f7f"/>
<circle cx="277.4" cy="468" r="2.9" fill="#1f3f7f"/>
<circle cx="273" cy="479" r="2.9" fill="#1f3f7f"/>
<circle cx="268.4" cy="496" r="2.9" fill="#1f3f7f"/>
<circle cx="277.4" cy="498" r="2.9" fill="#1f3f7f"/>
<circle cx="271" cy="499.4" r="2.9" fill="#1f3f7f"/>
<circle cx="275" cy="503" r="2.9" fill="#1f3f7f"/>
<circle cx="268.4" cy="514" r="2.9" fill="#1f3f7f"/>
<circle cx="275" cy="514" r="2.9" fill="#1f3f7f"/>
<circle cx="277.4" cy="513.4" r="2.9" fill="#1f3f7f"/>
<circle cx="270.6" cy="521.4" r="2.9" fill="#1f3f7f"/>
<circle cx="301" cy="427" r="2.9" fill="#5ea431"/>
<circle cx="301" cy="461.6" r="2.9" fill="#5ea431"/>
<circle cx="292.2" cy="483.6" r="2.9" fill="#5ea431"/>
<circle cx="305.6" cy="481" r="2.9" fill="#5ea431"/>
<circle cx="296.6" cy="490" r="2.9" fill="#5ea431"/>
<circle cx="305.6" cy="491" r="2.9" fill="#5ea431"/>
<circle cx="299" cy="497.6" r="2.9" fill="#5ea431"/>
<circle cx="303.6" cy="497.6" r="2.9" fill="#5ea431"/>
<circle cx="305.6" cy="512.4" r="2.9" fill="#5ea431"/>
<circle cx="296.6" cy="519" r="2.9" fill="#5ea431"/>
<circle cx="329.6" cy="439.4" r="2.9" fill="#4a165e"/>
<circle cx="329.6" cy="476.3" r="2.9" fill="#4a165e"/>
<circle cx="329.6" cy="492.6" r="2.9" fill="#4a165e"/>
<circle cx="333.9" cy="519.1" r="2.9" fill="#4a165e"/>
<circle cx="324.6" cy="521.3" r="2.9" fill="#4a165e"/>
<circle cx="331.9" cy="525" r="2.9" fill="#4a165e"/>
<circle cx="327.2" cy="527.8" r="2.9" fill="#4a165e"/>
<line x1="400.0" y1="400.8" x2="400.0" y2="531.7" stroke="#000" stroke-width="1.5"/>
<line x1="396.8" y1="403.9" x2="400.0" y2="403.9" stroke="#111" stroke-width="1.1"/>
<text x="393.0" y="406.9" font-size="8.6" text-anchor="end" fill="#111" stroke="#111" stroke-width="0.22" textLength="13.9" lengthAdjust="spacingAndGlyphs">100</text>
<line x1="396.8" y1="429.46" x2="400.0" y2="429.46" stroke="#111" stroke-width="1.1"/>
<text x="393.0" y="432.46" font-size="8.6" text-anchor="end" fill="#111" stroke="#111" stroke-width="0.22">80</text>
<line x1="396.8" y1="455.02" x2="400.0" y2="455.02" stroke="#111" stroke-width="1.1"/>
<text x="393.0" y="458.02" font-size="8.6" text-anchor="end" fill="#111" stroke="#111" stroke-width="0.22">60</text>
<line x1="396.8" y1="480.58" x2="400.0" y2="480.58" stroke="#111" stroke-width="1.1"/>
<text x="393.0" y="483.58" font-size="8.6" text-anchor="end" fill="#111" stroke="#111" stroke-width="0.22">40</text>
<line x1="396.8" y1="506.14" x2="400.0" y2="506.14" stroke="#111" stroke-width="1.1"/>
<text x="393.0" y="509.14" font-size="8.6" text-anchor="end" fill="#111" stroke="#111" stroke-width="0.22">20</text>
<line x1="396.8" y1="531.7" x2="400.0" y2="531.7" stroke="#111" stroke-width="1.1"/>
<text x="393.0" y="534.7" font-size="8.6" text-anchor="end" fill="#111" stroke="#111" stroke-width="0.22">0</text>
<line x1="396.8" y1="531.7" x2="513.7" y2="531.7" stroke="#000" stroke-width="1.5"/>
<text x="371.0" y="472.2" font-size="10.0" text-anchor="middle" fill="#111" stroke="#111" stroke-width="0.12" textLength="64" lengthAdjust="spacingAndGlyphs" transform="rotate(-90 371.0 472.2)">Cell death (%)</text>
<line x1="415.7" y1="416.2" x2="503.2" y2="416.2" stroke="#2a2a2a" stroke-width="1.25"/>
<text x="459.6" y="411.1" font-size="8.6" text-anchor="middle" fill="#111" stroke="#111" stroke-width="0.22" textLength="24.7" lengthAdjust="spacingAndGlyphs">p=0.72</text>
<text x="417.5" y="541.3000000000001" font-size="8.6" text-anchor="end" fill="#111" stroke="#111" stroke-width="0.22" textLength="28.4" lengthAdjust="spacingAndGlyphs" transform="rotate(-45 417.5 541.3000000000001)">MMSET</text>
<text x="445.90000000000003" y="541.9000000000001" font-size="8.6" text-anchor="end" fill="#111" stroke="#111" stroke-width="0.22" textLength="27.2" lengthAdjust="spacingAndGlyphs" transform="rotate(-45 445.90000000000003 541.9000000000001)">CCND1</text>
<text x="474.5" y="541.6" font-size="8.6" text-anchor="end" fill="#111" stroke="#111" stroke-width="0.22" textLength="16.6" lengthAdjust="spacingAndGlyphs" transform="rotate(-45 474.5 541.6)">MAF</text>
<text x="502.59999999999997" y="541.6" font-size="8.6" text-anchor="end" fill="#111" stroke="#111" stroke-width="0.22" textLength="19.2" lengthAdjust="spacingAndGlyphs" transform="rotate(-45 502.59999999999997 541.6)">other</text>
<line x1="405.3" y1="510.1" x2="423.6" y2="510.1" stroke="#000" stroke-width="1.4"/>
<line x1="433.6" y1="514" x2="452.2" y2="514" stroke="#000" stroke-width="1.4"/>
<line x1="462.2" y1="509.6" x2="480.8" y2="509.6" stroke="#000" stroke-width="1.4"/>
<line x1="490.9" y1="515.3" x2="509.4" y2="515.3" stroke="#000" stroke-width="1.4"/>
<circle cx="414" cy="424" r="2.9" fill="#a8002f"/>
<circle cx="414.1" cy="476" r="2.9" fill="#a8002f"/>
<circle cx="414.1" cy="495.8" r="2.9" fill="#a8002f"/>
<circle cx="409.8" cy="505.3" r="2.9" fill="#a8002f"/>
<circle cx="418.8" cy="510.1" r="2.9" fill="#a8002f"/>
<circle cx="405.3" cy="523.9" r="2.9" fill="#a8002f"/>
<circle cx="414.6" cy="522.7" r="2.9" fill="#a8002f"/>
<circle cx="418.8" cy="526.8" r="2.9" fill="#a8002f"/>
<circle cx="409.8" cy="531.5" r="2.9" fill="#a8002f"/>
<circle cx="442.6" cy="447.4" r="2.9" fill="#1f3f7f"/>
<circle cx="443.2" cy="491.5" r="2.9" fill="#1f3f7f"/>
<circle cx="437.9" cy="507.7" r="2.9" fill="#1f3f7f"/>
<circle cx="447.5" cy="504.6" r="2.9" fill="#1f3f7f"/>
<circle cx="437.9" cy="514.4" r="2.9" fill="#1f3f7f"/>
<circle cx="447.5" cy="514.4" r="2.9" fill="#1f3f7f"/>
<circle cx="447.5" cy="520.8" r="2.9" fill="#1f3f7f"/>
<circle cx="437.9" cy="526" r="2.9" fill="#1f3f7f"/>
<circle cx="442.7" cy="530.8" r="2.9" fill="#1f3f7f"/>
<circle cx="447.5" cy="530.3" r="2.9" fill="#1f3f7f"/>
<circle cx="471.6" cy="450.6" r="2.9" fill="#5ea431"/>
<circle cx="471.3" cy="468.8" r="2.9" fill="#5ea431"/>
<circle cx="467" cy="492.2" r="2.9" fill="#5ea431"/>
<circle cx="476.1" cy="495" r="2.9" fill="#5ea431"/>
<circle cx="471.3" cy="504.8" r="2.9" fill="#5ea431"/>
<circle cx="466.5" cy="514.4" r="2.9" fill="#5ea431"/>
<circle cx="476.1" cy="515.3" r="2.9" fill="#5ea431"/>
<circle cx="466.5" cy="518.4" r="2.9" fill="#5ea431"/>
<circle cx="476.1" cy="519.1" r="2.9" fill="#5ea431"/>
<circle cx="471.3" cy="529.9" r="2.9" fill="#5ea431"/>
<circle cx="498" cy="458.6" r="2.9" fill="#4a165e"/>
<circle cx="495.6" cy="505.3" r="2.9" fill="#4a165e"/>
<circle cx="504.7" cy="504.1" r="2.9" fill="#4a165e"/>
<circle cx="499.9" cy="515.3" r="2.9" fill="#4a165e"/>
<circle cx="495.1" cy="530.3" r="2.9" fill="#4a165e"/>
<circle cx="499.9" cy="531" r="2.9" fill="#4a165e"/>
<circle cx="504.7" cy="530.6" r="2.9" fill="#4a165e"/>
<line x1="60.2" y1="604.1" x2="60.2" y2="730.4" stroke="#000" stroke-width="1.5"/>
<line x1="57.0" y1="606.7" x2="60.2" y2="606.7" stroke="#111" stroke-width="1.1"/>
<text x="53.2" y="609.7" font-size="8.6" text-anchor="end" fill="#111" stroke="#111" stroke-width="0.22" textLength="13.9" lengthAdjust="spacingAndGlyphs">100</text>
<line x1="57.0" y1="631.44" x2="60.2" y2="631.44" stroke="#111" stroke-width="1.1"/>
<text x="53.2" y="634.44" font-size="8.6" text-anchor="end" fill="#111" stroke="#111" stroke-width="0.22">80</text>
<line x1="57.0" y1="656.18" x2="60.2" y2="656.18" stroke="#111" stroke-width="1.1"/>
<text x="53.2" y="659.18" font-size="8.6" text-anchor="end" fill="#111" stroke="#111" stroke-width="0.22">60</text>
<line x1="57.0" y1="680.92" x2="60.2" y2="680.92" stroke="#111" stroke-width="1.1"/>
<text x="53.2" y="683.92" font-size="8.6" text-anchor="end" fill="#111" stroke="#111" stroke-width="0.22">40</text>
<line x1="57.0" y1="705.66" x2="60.2" y2="705.66" stroke="#111" stroke-width="1.1"/>
<text x="53.2" y="708.66" font-size="8.6" text-anchor="end" fill="#111" stroke="#111" stroke-width="0.22">20</text>
<line x1="57.0" y1="730.4" x2="60.2" y2="730.4" stroke="#111" stroke-width="1.1"/>
<text x="53.2" y="733.4" font-size="8.6" text-anchor="end" fill="#111" stroke="#111" stroke-width="0.22">0</text>
<line x1="57.0" y1="730.4" x2="169.6" y2="730.4" stroke="#000" stroke-width="1.5"/>
<text x="31.200000000000003" y="666.8" font-size="10.0" text-anchor="middle" fill="#111" stroke="#111" stroke-width="0.12" textLength="41.2" lengthAdjust="spacingAndGlyphs" transform="rotate(-90 31.200000000000003 666.8)">GFP+ (%)</text>
<line x1="84.0" y1="620.2" x2="140.4" y2="620.2" stroke="#404040" stroke-width="1.3"/>
<text x="112.2" y="614.7" font-size="8.6" text-anchor="middle" fill="#111" stroke="#111" stroke-width="0.22" textLength="29.4" lengthAdjust="spacingAndGlyphs">p=0.327</text>
<text x="80.35" y="745.6" font-size="8.8" text-anchor="start" fill="#111" stroke="#111" stroke-width="0.22" textLength="14.3" lengthAdjust="spacingAndGlyphs">RAS</text>
<text x="95.14999999999999" y="741.9" font-size="6.9" text-anchor="start" fill="#111" stroke="#111" stroke-width="0.05" textLength="7.6" lengthAdjust="spacingAndGlyphs">wt</text>
<text x="124.79999999999998" y="745.6" font-size="8.8" text-anchor="start" fill="#111" stroke="#111" stroke-width="0.22" textLength="15.0" lengthAdjust="spacingAndGlyphs">RAS</text>
<text x="140.29999999999998" y="741.9" font-size="6.9" text-anchor="start" fill="#111" stroke="#111" stroke-width="0.05" textLength="11.8" lengthAdjust="spacingAndGlyphs">mut</text>
<line x1="75.8" y1="710.4" x2="107.0" y2="710.4" stroke="#000" stroke-width="1.4"/>
<line x1="122.5" y1="712.5" x2="153.7" y2="712.5" stroke="#000" stroke-width="1.4"/>
<circle cx="91.4" cy="630" r="2.9" fill="#a8002f"/>
<circle cx="87" cy="632.6" r="2.9" fill="#a8002f"/>
<circle cx="95.6" cy="640.6" r="2.9" fill="#a8002f"/>
<circle cx="87" cy="656.4" r="2.9" fill="#a8002f"/>
<circle cx="95.6" cy="654.6" r="2.9" fill="#a8002f"/>
<circle cx="87" cy="681.6" r="2.9" fill="#a8002f"/>
<circle cx="95.8" cy="685.4" r="2.9" fill="#a8002f"/>
<circle cx="91.2" cy="704.7" r="2.9" fill="#a8002f"/>
<circle cx="79.6" cy="715.8" r="2.9" fill="#a8002f"/>
<circle cx="87.2" cy="717.6" r="2.9" fill="#a8002f"/>
<circle cx="95.3" cy="719.7" r="2.9" fill="#a8002f"/>
<circle cx="106.8" cy="716.5" r="2.9" fill="#a8002f"/>
<circle cx="79.6" cy="724.3" r="2.9" fill="#a8002f"/>
<circle cx="102.7" cy="723.2" r="2.9" fill="#a8002f"/>
<circle cx="87.2" cy="729.4" r="2.9" fill="#a8002f"/>
<circle cx="95.3" cy="728.5" r="2.9" fill="#a8002f"/>
<circle cx="133.8" cy="648.2" r="2.9" fill="#1f3f7f"/>
<circle cx="142.4" cy="654.7" r="2.9" fill="#1f3f7f"/>
<circle cx="133.8" cy="671.8" r="2.9" fill="#1f3f7f"/>
<circle cx="142.4" cy="670.5" r="2.9" fill="#1f3f7f"/>
<circle cx="138.2" cy="694.7" r="2.9" fill="#1f3f7f"/>
<circle cx="129.5" cy="702" r="2.9" fill="#1f3f7f"/>
<circle cx="138.2" cy="709.1" r="2.9" fill="#1f3f7f"/>
<circle cx="146.4" cy="708.5" r="2.9" fill="#1f3f7f"/>
<circle cx="149.2" cy="711.4" r="2.9" fill="#1f3f7f"/>
<circle cx="126.9" cy="711.9" r="2.9" fill="#1f3f7f"/>
<circle cx="132.6" cy="713.1" r="2.9" fill="#1f3f7f"/>
<circle cx="143.9" cy="712.9" r="2.9" fill="#1f3f7f"/>
<circle cx="138.2" cy="718.9" r="2.9" fill="#1f3f7f"/>
<circle cx="133.8" cy="723.9" r="2.9" fill="#1f3f7f"/>
<circle cx="142.6" cy="723.3" r="2.9" fill="#1f3f7f"/>
<circle cx="148.3" cy="724.8" r="2.9" fill="#1f3f7f"/>
<circle cx="128.2" cy="728" r="2.9" fill="#1f3f7f"/>
<circle cx="132" cy="729" r="2.9" fill="#1f3f7f"/>
<circle cx="135.7" cy="729.5" r="2.9" fill="#1f3f7f"/>
<circle cx="139.5" cy="729.2" r="2.9" fill="#1f3f7f"/>
<circle cx="143.3" cy="728.6" r="2.9" fill="#1f3f7f"/>
<line x1="230.1" y1="604.1" x2="230.1" y2="730.4" stroke="#000" stroke-width="1.5"/>
<line x1="226.9" y1="607.0" x2="230.1" y2="607.0" stroke="#111" stroke-width="1.1"/>
<text x="223.1" y="610.0" font-size="8.6" text-anchor="end" fill="#111" stroke="#111" stroke-width="0.22" textLength="13.9" lengthAdjust="spacingAndGlyphs">200</text>
<line x1="226.9" y1="637.85" x2="230.1" y2="637.85" stroke="#111" stroke-width="1.1"/>
<text x="223.1" y="640.85" font-size="8.6" text-anchor="end" fill="#111" stroke="#111" stroke-width="0.22" textLength="13.9" lengthAdjust="spacingAndGlyphs">150</text>
<line x1="226.9" y1="668.7" x2="230.1" y2="668.7" stroke="#111" stroke-width="1.1"/>
<text x="223.1" y="671.7" font-size="8.6" text-anchor="end" fill="#111" stroke="#111" stroke-width="0.22" textLength="13.9" lengthAdjust="spacingAndGlyphs">100</text>
<line x1="226.9" y1="699.55" x2="230.1" y2="699.55" stroke="#111" stroke-width="1.1"/>
<text x="223.1" y="702.55" font-size="8.6" text-anchor="end" fill="#111" stroke="#111" stroke-width="0.22">50</text>
<line x1="226.9" y1="730.4" x2="230.1" y2="730.4" stroke="#111" stroke-width="1.1"/>
<text x="223.1" y="733.4" font-size="8.6" text-anchor="end" fill="#111" stroke="#111" stroke-width="0.22">0</text>
<line x1="226.9" y1="730.4" x2="339.5" y2="730.4" stroke="#000" stroke-width="1.5"/>
<text x="201.1" y="667.7" font-size="10.0" text-anchor="middle" fill="#111" stroke="#111" stroke-width="0.12" textLength="57" lengthAdjust="spacingAndGlyphs" transform="rotate(-90 201.1 667.7)">CD46 (MFIR)</text>
<line x1="254.0" y1="620.3" x2="311.3" y2="620.3" stroke="#404040" stroke-width="1.3"/>
<text x="282.65" y="614.8" font-size="8.6" text-anchor="middle" fill="#111" stroke="#111" stroke-width="0.22" textLength="33.6" lengthAdjust="spacingAndGlyphs">p=0.1030</text>
<text x="250.25" y="745.6" font-size="8.8" text-anchor="start" fill="#111" stroke="#111" stroke-width="0.22" textLength="14.3" lengthAdjust="spacingAndGlyphs">RAS</text>
<text x="265.05" y="741.9" font-size="6.9" text-anchor="start" fill="#111" stroke="#111" stroke-width="0.05" textLength="7.6" lengthAdjust="spacingAndGlyphs">wt</text>
<text x="295.0" y="745.6" font-size="8.8" text-anchor="start" fill="#111" stroke="#111" stroke-width="0.22" textLength="15.0" lengthAdjust="spacingAndGlyphs">RAS</text>
<text x="310.5" y="741.9" font-size="6.9" text-anchor="start" fill="#111" stroke="#111" stroke-width="0.05" textLength="11.8" lengthAdjust="spacingAndGlyphs">mut</text>
<line x1="246" y1="709.4" x2="277.4" y2="709.4" stroke="#000" stroke-width="1.4"/>
<line x1="292.6" y1="692.4" x2="323.6" y2="692.4" stroke="#000" stroke-width="1.4"/>
<circle cx="261.2" cy="646.2" r="2.9" fill="#a8002f"/>
<circle cx="261.2" cy="666" r="2.9" fill="#a8002f"/>
<circle cx="270.4" cy="691" r="2.9" fill="#a8002f"/>
<circle cx="248" cy="696.4" r="2.9" fill="#a8002f"/>
<circle cx="261.2" cy="698" r="2.9" fill="#a8002f"/>
<circle cx="252.6" cy="701" r="2.9" fill="#a8002f"/>
<circle cx="270.4" cy="703" r="2.9" fill="#a8002f"/>
<circle cx="261.2" cy="707.6" r="2.9" fill="#a8002f"/>
<circle cx="252.6" cy="711.6" r="2.9" fill="#a8002f"/>
<circle cx="257" cy="711.6" r="2.9" fill="#a8002f"/>
<circle cx="266" cy="711.6" r="2.9" fill="#a8002f"/>
<circle cx="259" cy="717.4" r="2.9" fill="#a8002f"/>
<circle cx="269.6" cy="716.4" r="2.9" fill="#a8002f"/>
<circle cx="265.6" cy="720" r="2.9" fill="#a8002f"/>
<circle cx="257" cy="727" r="2.9" fill="#a8002f"/>
<circle cx="308.4" cy="629" r="2.9" fill="#1f3f7f"/>
<circle cx="308.4" cy="641.4" r="2.9" fill="#1f3f7f"/>
<circle cx="304" cy="662.6" r="2.9" fill="#1f3f7f"/>
<circle cx="312.4" cy="669" r="2.9" fill="#1f3f7f"/>
<circle cx="317" cy="677" r="2.9" fill="#1f3f7f"/>
<circle cx="296.6" cy="681.4" r="2.9" fill="#1f3f7f"/>
<circle cx="304" cy="679.4" r="2.9" fill="#1f3f7f"/>
<circle cx="304.4" cy="683.6" r="2.9" fill="#1f3f7f"/>
<circle cx="312.4" cy="681.4" r="2.9" fill="#1f3f7f"/>
<circle cx="316" cy="690" r="2.9" fill="#1f3f7f"/>
<circle cx="320" cy="692" r="2.9" fill="#1f3f7f"/>
<circle cx="296.4" cy="696" r="2.9" fill="#1f3f7f"/>
<circle cx="304.4" cy="699" r="2.9" fill="#1f3f7f"/>
<circle cx="312.4" cy="697.4" r="2.9" fill="#1f3f7f"/>
<circle cx="296.4" cy="710" r="2.9" fill="#1f3f7f"/>
<circle cx="304.4" cy="713.4" r="2.9" fill="#1f3f7f"/>
<circle cx="312.4" cy="714" r="2.9" fill="#1f3f7f"/>
<circle cx="320.4" cy="712.6" r="2.9" fill="#1f3f7f"/>
<circle cx="299.4" cy="718.4" r="2.9" fill="#1f3f7f"/>
<circle cx="316.6" cy="720.2" r="2.9" fill="#1f3f7f"/>
<circle cx="308.4" cy="723.6" r="2.9" fill="#1f3f7f"/>
<line x1="400.0" y1="604.1" x2="400.0" y2="730.4" stroke="#000" stroke-width="1.5"/>
<line x1="396.8" y1="606.7" x2="400.0" y2="606.7" stroke="#111" stroke-width="1.1"/>
<text x="393.0" y="609.7" font-size="8.6" text-anchor="end" fill="#111" stroke="#111" stroke-width="0.22" textLength="13.9" lengthAdjust="spacingAndGlyphs">100</text>
<line x1="396.8" y1="631.44" x2="400.0" y2="631.44" stroke="#111" stroke-width="1.1"/>
<text x="393.0" y="634.44" font-size="8.6" text-anchor="end" fill="#111" stroke="#111" stroke-width="0.22">80</text>
<line x1="396.8" y1="656.18" x2="400.0" y2="656.18" stroke="#111" stroke-width="1.1"/>
<text x="393.0" y="659.18" font-size="8.6" text-anchor="end" fill="#111" stroke="#111" stroke-width="0.22">60</text>
<line x1="396.8" y1="680.92" x2="400.0" y2="680.92" stroke="#111" stroke-width="1.1"/>
<text x="393.0" y="683.92" font-size="8.6" text-anchor="end" fill="#111" stroke="#111" stroke-width="0.22">40</text>
<line x1="396.8" y1="705.66" x2="400.0" y2="705.66" stroke="#111" stroke-width="1.1"/>
<text x="393.0" y="708.66" font-size="8.6" text-anchor="end" fill="#111" stroke="#111" stroke-width="0.22">20</text>
<line x1="396.8" y1="730.4" x2="400.0" y2="730.4" stroke="#111" stroke-width="1.1"/>
<text x="393.0" y="733.4" font-size="8.6" text-anchor="end" fill="#111" stroke="#111" stroke-width="0.22">0</text>
<line x1="396.8" y1="730.4" x2="509.5" y2="730.4" stroke="#000" stroke-width="1.5"/>
<text x="371.0" y="671.6" font-size="10.0" text-anchor="middle" fill="#111" stroke="#111" stroke-width="0.12" textLength="64" lengthAdjust="spacingAndGlyphs" transform="rotate(-90 371.0 671.6)">Cell death (%)</text>
<line x1="424.0" y1="620.3" x2="480.8" y2="620.3" stroke="#404040" stroke-width="1.3"/>
<text x="452.4" y="614.8" font-size="8.6" text-anchor="middle" fill="#111" stroke="#111" stroke-width="0.22" textLength="32.7" lengthAdjust="spacingAndGlyphs">p=0.7447</text>
<text x="420.35" y="745.6" font-size="8.8" text-anchor="start" fill="#111" stroke="#111" stroke-width="0.22" textLength="14.3" lengthAdjust="spacingAndGlyphs">RAS</text>
<text x="435.15000000000003" y="741.9" font-size="6.9" text-anchor="start" fill="#111" stroke="#111" stroke-width="0.05" textLength="7.6" lengthAdjust="spacingAndGlyphs">wt</text>
<text x="464.8" y="745.6" font-size="8.8" text-anchor="start" fill="#111" stroke="#111" stroke-width="0.22" textLength="15.0" lengthAdjust="spacingAndGlyphs">RAS</text>
<text x="480.3" y="741.9" font-size="6.9" text-anchor="start" fill="#111" stroke="#111" stroke-width="0.05" textLength="11.8" lengthAdjust="spacingAndGlyphs">mut</text>
<line x1="415.6" y1="713.3" x2="446.9" y2="713.3" stroke="#000" stroke-width="1.4"/>
<line x1="462.7" y1="712.3" x2="493.8" y2="712.3" stroke="#000" stroke-width="1.4"/>
<circle cx="431" cy="626" r="2.9" fill="#a8002f"/>
<circle cx="431" cy="652" r="2.9" fill="#a8002f"/>
<circle cx="431" cy="676" r="2.9" fill="#a8002f"/>
<circle cx="431.3" cy="691" r="2.9" fill="#a8002f"/>
<circle cx="422.3" cy="704" r="2.9" fill="#a8002f"/>
<circle cx="431.3" cy="706.5" r="2.9" fill="#a8002f"/>
<circle cx="440.2" cy="704.4" r="2.9" fill="#a8002f"/>
<circle cx="419.8" cy="713.1" r="2.9" fill="#a8002f"/>
<circle cx="425.2" cy="716.2" r="2.9" fill="#a8002f"/>
<circle cx="431.3" cy="718.1" r="2.9" fill="#a8002f"/>
<circle cx="436.7" cy="713.7" r="2.9" fill="#a8002f"/>
<circle cx="442.5" cy="712.7" r="2.9" fill="#a8002f"/>
<circle cx="419.8" cy="722.3" r="2.9" fill="#a8002f"/>
<circle cx="442.5" cy="721.3" r="2.9" fill="#a8002f"/>
<circle cx="427.5" cy="729.6" r="2.9" fill="#a8002f"/>
<circle cx="434.8" cy="728.1" r="2.9" fill="#a8002f"/>
<circle cx="478.4" cy="649" r="2.9" fill="#1f3f7f"/>
<circle cx="478.4" cy="660" r="2.9" fill="#1f3f7f"/>
<circle cx="478.4" cy="670" r="2.9" fill="#1f3f7f"/>
<circle cx="469.4" cy="694.4" r="2.9" fill="#1f3f7f"/>
<circle cx="478.1" cy="695.4" r="2.9" fill="#1f3f7f"/>
<circle cx="486.7" cy="691.9" r="2.9" fill="#1f3f7f"/>
<circle cx="473.7" cy="704.4" r="2.9" fill="#1f3f7f"/>
<circle cx="481.9" cy="704.6" r="2.9" fill="#1f3f7f"/>
<circle cx="489.6" cy="703.1" r="2.9" fill="#1f3f7f"/>
<circle cx="470.4" cy="709.2" r="2.9" fill="#1f3f7f"/>
<circle cx="466.2" cy="712.3" r="2.9" fill="#1f3f7f"/>
<circle cx="474.2" cy="715.2" r="2.9" fill="#1f3f7f"/>
<circle cx="489.6" cy="714" r="2.9" fill="#1f3f7f"/>
<circle cx="481.9" cy="719.8" r="2.9" fill="#1f3f7f"/>
<circle cx="466.2" cy="724.8" r="2.9" fill="#1f3f7f"/>
<circle cx="489.6" cy="725.6" r="2.9" fill="#1f3f7f"/>
<circle cx="470.4" cy="728.1" r="2.9" fill="#1f3f7f"/>
<circle cx="474.2" cy="729.6" r="2.9" fill="#1f3f7f"/>
<circle cx="478.1" cy="730.4" r="2.9" fill="#1f3f7f"/>
<circle cx="481.9" cy="730" r="2.9" fill="#1f3f7f"/>
<circle cx="485.8" cy="728.5" r="2.9" fill="#1f3f7f"/>
<rect x="0" y="0" width="520" height="1" fill="#000"/>
<rect x="0" y="0" width="1.6" height="756" fill="#2a2a2a"/>
<rect x="519" y="0" width="1" height="756" fill="#000"/>
<rect x="0" y="754.35" width="520" height="1.65" fill="#2a2a2a"/>
</svg>
</body></html>
